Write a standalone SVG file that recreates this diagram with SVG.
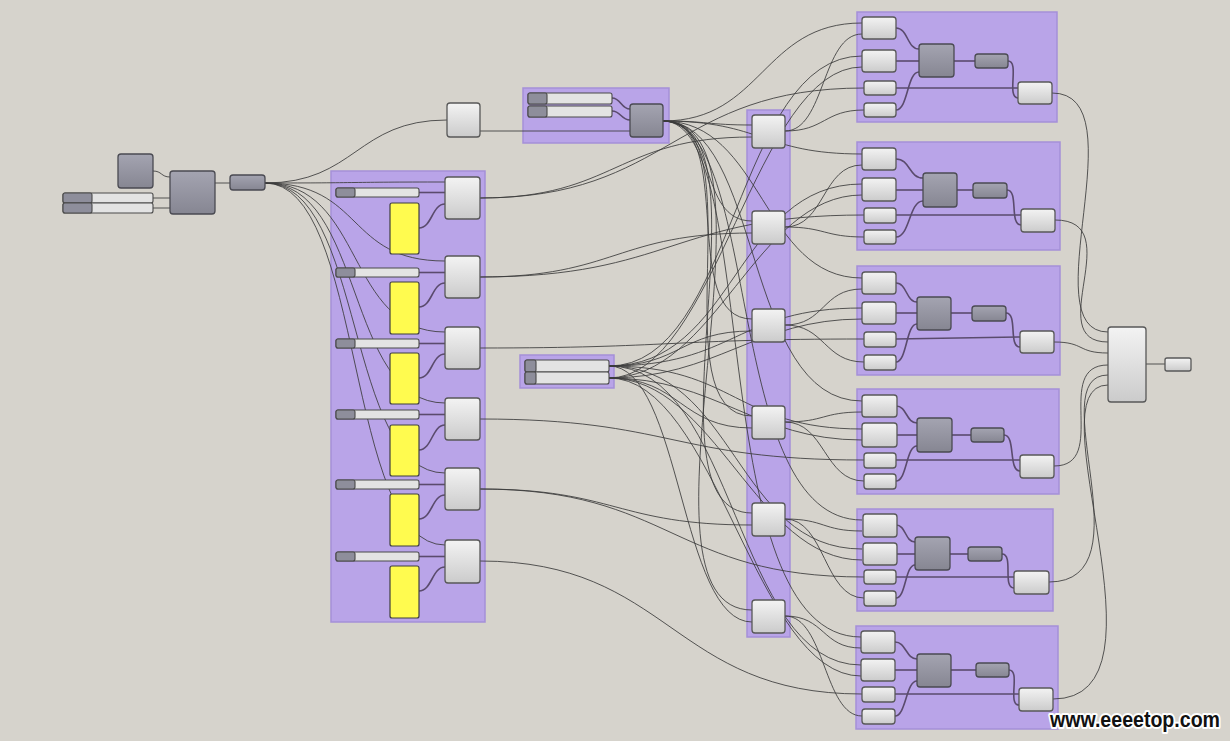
<svg xmlns="http://www.w3.org/2000/svg" width="1230" height="741" viewBox="0 0 1230 741">
<defs>
<linearGradient id="gl" x1="0" y1="0" x2="0" y2="1"><stop offset="0" stop-color="#f3f3f3"/><stop offset="1" stop-color="#cbcbcb"/></linearGradient>
<linearGradient id="gd" x1="0" y1="0" x2="0" y2="1"><stop offset="0" stop-color="#a4a4b1"/><stop offset="1" stop-color="#868692"/></linearGradient>
<style>
.grp{fill:#b9a4e8;stroke:#a590d8;stroke-width:1.5}
.ln{fill:url(#gl);stroke:#585858;stroke-width:1.3}
.dn{fill:url(#gd);stroke:#4a4a52;stroke-width:1.3}
.yl{fill:#fffb4f;stroke:#3f3f3f;stroke-width:1.2}
.sl{fill:#e3e3e3;stroke:#4a4a4a;stroke-width:1.1}
.sd{fill:#8e8e9b;stroke:#4a4a4a;stroke-width:1.1}
.w{fill:none;stroke:#3b3b3b;stroke-width:1;stroke-opacity:.85}
.iw{fill:none;stroke:#5a4b6d;stroke-width:1.6}
</style>
</defs>
<rect width="1230" height="741" fill="#d6d3cc"/>

<g id="groups">
<rect id="grp-top" class="grp" x="523" y="88" width="146" height="55"/>
<rect id="grp-mid" class="grp" x="520" y="355" width="94" height="33"/>
<rect id="grp-left" class="grp" x="331" y="171" width="154" height="451"/>
<rect id="grp-col" class="grp" x="747" y="110" width="43" height="527"/>
<rect id="grp-r1" class="grp" x="857" y="12" width="200" height="110"/>
<rect id="grp-r2" class="grp" x="857" y="142" width="203" height="108"/>
<rect id="grp-r3" class="grp" x="857" y="266" width="203" height="109"/>
<rect id="grp-r4" class="grp" x="857" y="389" width="202" height="105"/>
<rect id="grp-r5" class="grp" x="857" y="509" width="196" height="102"/>
<rect id="grp-r6" class="grp" x="856" y="626" width="202" height="103"/>
</g>

<g id="connectors">
<path class="w" d="M153 171 C162 171 161 177 170 177"/>
<path class="w" d="M153 198 L170 198"/>
<path class="w" d="M153 208 L170 208"/>
<path class="w" d="M215 183 L230 183"/>
<path class="w" d="M265 183 C356 183 356 120 447 120"/>
<path class="w" d="M265 183 C365 183 345 182 445 182"/>
<path class="w" d="M265 183 C365 183 345 261 445 261"/>
<path class="w" d="M265 183 C365 183 345 332 445 332"/>
<path class="w" d="M265 183 C365 183 345 403 445 403"/>
<path class="w" d="M265 183 C365 183 345 473 445 473"/>
<path class="w" d="M265 183 C365 183 345 545 445 545"/>
<path class="w" d="M480 131 L630 131"/>
<path class="iw" d="M612 98 C621 98 621 109 630 109"/>
<path class="iw" d="M612 111 C621 111 621 120 630 120"/>
<path class="w" d="M663 121 C708 121 707 125 752 125"/>
<path class="w" d="M663 121 C718 121 697 221 752 221"/>
<path class="w" d="M663 121 C738 121 677 319 752 319"/>
<path class="w" d="M663 121 C758 121 657 416 752 416"/>
<path class="w" d="M663 121 C778 121 637 513 752 513"/>
<path class="w" d="M663 121 C798 121 617 610 752 610"/>
<path class="w" d="M663 121 C763 121 762 23 862 23"/>
<path class="w" d="M663 121 C763 121 762 154 862 154"/>
<path class="w" d="M663 121 C763 121 762 278 862 278"/>
<path class="w" d="M663 121 C763 121 742 401 862 401"/>
<path class="w" d="M663 121 C763 121 722 520 862 520"/>
<path class="w" d="M663 121 C763 121 702 637 861 637"/>
<path class="w" d="M609 366 C681 366 680 331 752 331"/>
<path class="w" d="M609 378 C681 378 680 428 752 428"/>
<path class="w" d="M609 366 C681 366 680 622 752 622"/>
<path class="w" d="M609 366 C736 366 735 56 862 56"/>
<path class="w" d="M609 366 C736 366 735 184 862 184"/>
<path class="w" d="M609 366 C736 366 735 308 862 308"/>
<path class="w" d="M609 366 C736 366 735 429 862 429"/>
<path class="w" d="M609 366 C736 366 735 549 862 549"/>
<path class="w" d="M609 366 C736 366 735 665 861 665"/>
<path class="w" d="M609 378 C716 378 755 67 862 67"/>
<path class="w" d="M609 378 C716 378 755 195 862 195"/>
<path class="w" d="M609 378 C716 378 755 319 862 319"/>
<path class="w" d="M609 378 C716 378 755 440 862 440"/>
<path class="w" d="M609 378 C716 378 755 560 862 560"/>
<path class="w" d="M609 378 C716 378 755 676 861 676"/>
<path class="w" d="M480 198 C616 198 616 137 752 137"/>
<path class="w" d="M480 198 C672 198 672 88 864 88"/>
<path class="w" d="M480 277 C616 277 616 233 752 233"/>
<path class="w" d="M480 277 C672 277 672 215 864 215"/>
<path class="w" d="M480 348 C672 348 672 339 864 339"/>
<path class="w" d="M480 419 C672 419 672 460 864 460"/>
<path class="w" d="M480 489 C616 489 616 525 752 525"/>
<path class="w" d="M480 489 C672 489 672 577 864 577"/>
<path class="w" d="M480 561 C671 561 671 694 862 694"/>
<path class="w" d="M785 131 C825 131 822 34 862 34"/>
<path class="w" d="M785 131 C825 131 824 110 864 110"/>
<path class="w" d="M785 227 C825 227 822 165 862 165"/>
<path class="w" d="M785 227 C825 227 824 237 864 237"/>
<path class="w" d="M785 325 C825 325 822 289 862 289"/>
<path class="w" d="M785 325 C825 325 824 362 864 362"/>
<path class="w" d="M785 422 C825 422 822 412 862 412"/>
<path class="w" d="M785 422 C825 422 824 481 864 481"/>
<path class="w" d="M785 519 C825 519 822 531 862 531"/>
<path class="w" d="M785 519 C825 519 824 598 864 598"/>
<path class="w" d="M785 616 C825 616 822 648 861 648"/>
<path class="w" d="M785 616 C825 616 824 716 862 716"/>
<path class="w" d="M1052 93 C1140 93 1030 332 1108 332"/>
<path class="w" d="M1055 220 C1130 220 1040 342 1108 342"/>
<path class="w" d="M1054 342 C1085 342 1077 353 1108 353"/>
<path class="w" d="M1054 466 C1110 466 1052 365 1108 365"/>
<path class="w" d="M1049 582 C1150 582 1040 375 1108 375"/>
<path class="w" d="M1053 699 C1180 699 1030 385 1108 385"/>
<path class="w" d="M1146 364 L1165 364"/>
<path class="iw" d="M419 192.5 L445 192.5"/>
<path class="iw" d="M419 272.5 L445 272.5"/>
<path class="iw" d="M419 343.5 L445 343.5"/>
<path class="iw" d="M419 414.5 L445 414.5"/>
<path class="iw" d="M419 484.5 L445 484.5"/>
<path class="iw" d="M419 556.5 L445 556.5"/>
<path class="iw" d="M419 228 C432 228 432 204 445 204"/>
<path class="iw" d="M419 307 C432 307 432 283 445 283"/>
<path class="iw" d="M419 378 C432 378 432 354 445 354"/>
<path class="iw" d="M419 450 C432 450 432 425 445 425"/>
<path class="iw" d="M419 519 C432 519 432 495 445 495"/>
<path class="iw" d="M419 591 C432 591 432 567 445 567"/>
<path class="iw" d="M896 28 C908 28 907 49 919 49"/>
<path class="iw" d="M896 61 L919 61"/>
<path class="iw" d="M896 110 C908 110 907 72 919 72"/>
<path class="iw" d="M954 61 L975 61"/>
<path class="iw" d="M1008 61 C1020 61 1006 98 1018 98"/>
<path class="iw" d="M896 88 L1018 88"/>
<path class="iw" d="M896 159 C910 159 909 178 923 178"/>
<path class="iw" d="M896 190 L923 190"/>
<path class="iw" d="M896 237 C910 237 909 201 923 201"/>
<path class="iw" d="M957 190 L973 190"/>
<path class="iw" d="M1007 190 C1019 190 1009 225 1021 225"/>
<path class="iw" d="M896 215 L1021 215"/>
<path class="iw" d="M896 283 C907 283 906 302 917 302"/>
<path class="iw" d="M896 313 L917 313"/>
<path class="iw" d="M896 362 C907 362 906 324 917 324"/>
<path class="iw" d="M951 313 L972 313"/>
<path class="iw" d="M1006 313 C1018 313 1008 347 1020 347"/>
<path class="iw" d="M896 339 L1020 337"/>
<path class="iw" d="M896 406 C907 406 906 423 917 423"/>
<path class="iw" d="M896 435 L917 435"/>
<path class="iw" d="M896 481 C907 481 906 446 917 446"/>
<path class="iw" d="M952 435 L971 435"/>
<path class="iw" d="M1004 435 C1016 435 1008 471 1020 471"/>
<path class="iw" d="M896 460 L1020 460"/>
<path class="iw" d="M896 525 C906 525 905 542 915 542"/>
<path class="iw" d="M896 554 L915 554"/>
<path class="iw" d="M896 598 C906 598 905 565 915 565"/>
<path class="iw" d="M950 554 L968 554"/>
<path class="iw" d="M1002 554 C1014 554 1002 588 1014 588"/>
<path class="iw" d="M896 577 L1014 577"/>
<path class="iw" d="M895 642 C906 642 906 659 917 659"/>
<path class="iw" d="M895 670 L917 670"/>
<path class="iw" d="M895 716 C906 716 906 681 917 681"/>
<path class="iw" d="M951 670 L976 670"/>
<path class="iw" d="M1009 670 C1021 670 1007 705 1019 705"/>
<path class="iw" d="M895 694 L1019 694"/>
</g>

<g id="n-square"><rect class="dn" x="118" y="154" width="35" height="34" rx="3"/></g>
<g id="n-slider-a1"><rect class="sl" x="63" y="193" width="90" height="10" rx="2"/><rect class="sd" x="63" y="193" width="29" height="10" rx="2"/></g>
<g id="n-slider-a2"><rect class="sl" x="63" y="203" width="90" height="10" rx="2"/><rect class="sd" x="63" y="203" width="29" height="10" rx="2"/></g>
<g id="n-big"><rect class="dn" x="170" y="171" width="45" height="43" rx="3"/></g>
<g id="n-small"><rect class="dn" x="230" y="175" width="35" height="15" rx="3"/></g>
<g id="n-toplight"><rect class="ln" x="447" y="103" width="33" height="34" rx="3"/></g>

<g id="n-top-s1"><rect class="sl" x="528" y="93" width="84" height="11" rx="2"/><rect class="sd" x="528" y="93" width="19" height="11" rx="2"/></g>
<g id="n-top-s2"><rect class="sl" x="528" y="106" width="84" height="11" rx="2"/><rect class="sd" x="528" y="106" width="19" height="11" rx="2"/></g>
<g id="n-top-dark"><rect class="dn" x="630" y="104" width="33" height="33" rx="3"/></g>

<g id="n-mid-s1"><rect class="sl" x="525" y="360" width="84" height="12" rx="2"/><rect class="sd" x="525" y="360" width="11" height="12" rx="2"/></g>
<g id="n-mid-s2"><rect class="sl" x="525" y="372" width="84" height="12" rx="2"/><rect class="sd" x="525" y="372" width="11" height="12" rx="2"/></g>

<g id="n-l1"><rect class="sl" x="336" y="188" width="83" height="9" rx="2"/><rect class="sd" x="336" y="188" width="19" height="9" rx="2"/><rect class="yl" x="390" y="203" width="29" height="51" rx="2"/><rect class="ln" x="445" y="177" width="35" height="42" rx="3"/></g>
<g id="n-l2"><rect class="sl" x="336" y="268" width="83" height="9" rx="2"/><rect class="sd" x="336" y="268" width="19" height="9" rx="2"/><rect class="yl" x="390" y="282" width="29" height="52" rx="2"/><rect class="ln" x="445" y="256" width="35" height="42" rx="3"/></g>
<g id="n-l3"><rect class="sl" x="336" y="339" width="83" height="9" rx="2"/><rect class="sd" x="336" y="339" width="19" height="9" rx="2"/><rect class="yl" x="390" y="353" width="29" height="51" rx="2"/><rect class="ln" x="445" y="327" width="35" height="42" rx="3"/></g>
<g id="n-l4"><rect class="sl" x="336" y="410" width="83" height="9" rx="2"/><rect class="sd" x="336" y="410" width="19" height="9" rx="2"/><rect class="yl" x="390" y="425" width="29" height="51" rx="2"/><rect class="ln" x="445" y="398" width="35" height="42" rx="3"/></g>
<g id="n-l5"><rect class="sl" x="336" y="480" width="83" height="9" rx="2"/><rect class="sd" x="336" y="480" width="19" height="9" rx="2"/><rect class="yl" x="390" y="494" width="29" height="52" rx="2"/><rect class="ln" x="445" y="468" width="35" height="42" rx="3"/></g>
<g id="n-l6"><rect class="sl" x="336" y="552" width="83" height="9" rx="2"/><rect class="sd" x="336" y="552" width="19" height="9" rx="2"/><rect class="yl" x="390" y="566" width="29" height="52" rx="2"/><rect class="ln" x="445" y="540" width="35" height="43" rx="3"/></g>

<g id="n-c1"><rect class="ln" x="752" y="115" width="33" height="33" rx="3"/></g>
<g id="n-c2"><rect class="ln" x="752" y="211" width="33" height="33" rx="3"/></g>
<g id="n-c3"><rect class="ln" x="752" y="309" width="33" height="33" rx="3"/></g>
<g id="n-c4"><rect class="ln" x="752" y="406" width="33" height="33" rx="3"/></g>
<g id="n-c5"><rect class="ln" x="752" y="503" width="33" height="33" rx="3"/></g>
<g id="n-c6"><rect class="ln" x="752" y="600" width="33" height="33" rx="3"/></g>

<g id="n-r1">
<rect class="ln" x="862" y="17" width="34" height="22" rx="3"/>
<rect class="ln" x="862" y="50" width="34" height="22" rx="3"/>
<rect class="ln" x="864" y="81" width="32" height="14" rx="3"/>
<rect class="ln" x="864" y="103" width="32" height="14" rx="3"/>
<rect class="dn" x="919" y="44" width="35" height="33" rx="3"/>
<rect class="dn" x="975" y="54" width="33" height="14" rx="3"/>
<rect class="ln" x="1018" y="82" width="34" height="22" rx="3"/>
</g>
<g id="n-r2">
<rect class="ln" x="862" y="148" width="34" height="22" rx="3"/>
<rect class="ln" x="862" y="178" width="34" height="23" rx="3"/>
<rect class="ln" x="864" y="208" width="32" height="15" rx="3"/>
<rect class="ln" x="864" y="230" width="32" height="14" rx="3"/>
<rect class="dn" x="923" y="173" width="34" height="34" rx="3"/>
<rect class="dn" x="973" y="183" width="34" height="15" rx="3"/>
<rect class="ln" x="1021" y="209" width="34" height="23" rx="3"/>
</g>
<g id="n-r3">
<rect class="ln" x="862" y="272" width="34" height="22" rx="3"/>
<rect class="ln" x="862" y="302" width="34" height="22" rx="3"/>
<rect class="ln" x="864" y="332" width="32" height="15" rx="3"/>
<rect class="ln" x="864" y="355" width="32" height="15" rx="3"/>
<rect class="dn" x="917" y="297" width="34" height="33" rx="3"/>
<rect class="dn" x="972" y="306" width="34" height="15" rx="3"/>
<rect class="ln" x="1020" y="331" width="34" height="22" rx="3"/>
</g>
<g id="n-r4">
<rect class="ln" x="862" y="395" width="35" height="22" rx="3"/>
<rect class="ln" x="862" y="423" width="35" height="24" rx="3"/>
<rect class="ln" x="864" y="453" width="32" height="15" rx="3"/>
<rect class="ln" x="864" y="474" width="32" height="15" rx="3"/>
<rect class="dn" x="917" y="418" width="35" height="34" rx="3"/>
<rect class="dn" x="971" y="428" width="33" height="14" rx="3"/>
<rect class="ln" x="1020" y="455" width="34" height="23" rx="3"/>
</g>
<g id="n-r5">
<rect class="ln" x="863" y="514" width="34" height="23" rx="3"/>
<rect class="ln" x="863" y="543" width="34" height="22" rx="3"/>
<rect class="ln" x="864" y="570" width="32" height="14" rx="3"/>
<rect class="ln" x="864" y="591" width="32" height="15" rx="3"/>
<rect class="dn" x="915" y="537" width="35" height="33" rx="3"/>
<rect class="dn" x="968" y="547" width="34" height="14" rx="3"/>
<rect class="ln" x="1014" y="571" width="35" height="23" rx="3"/>
</g>
<g id="n-r6">
<rect class="ln" x="861" y="631" width="34" height="22" rx="3"/>
<rect class="ln" x="861" y="659" width="34" height="22" rx="3"/>
<rect class="ln" x="862" y="687" width="33" height="15" rx="3"/>
<rect class="ln" x="862" y="709" width="33" height="15" rx="3"/>
<rect class="dn" x="917" y="654" width="34" height="33" rx="3"/>
<rect class="dn" x="976" y="663" width="33" height="14" rx="3"/>
<rect class="ln" x="1019" y="688" width="34" height="23" rx="3"/>
</g>

<g id="n-merge"><rect class="ln" x="1108" y="327" width="38" height="75" rx="3"/></g>
<g id="n-final"><rect class="ln" x="1165" y="358" width="26" height="13" rx="2"/></g>

<g id="watermark"><text x="1050" y="727" font-family="Liberation Sans, Arial, sans-serif" font-weight="bold" font-size="22" textLength="170" lengthAdjust="spacingAndGlyphs" fill="#111" stroke="#fff" stroke-width="4" stroke-linejoin="round" paint-order="stroke">www.eeeetop.com</text></g>
</svg>
